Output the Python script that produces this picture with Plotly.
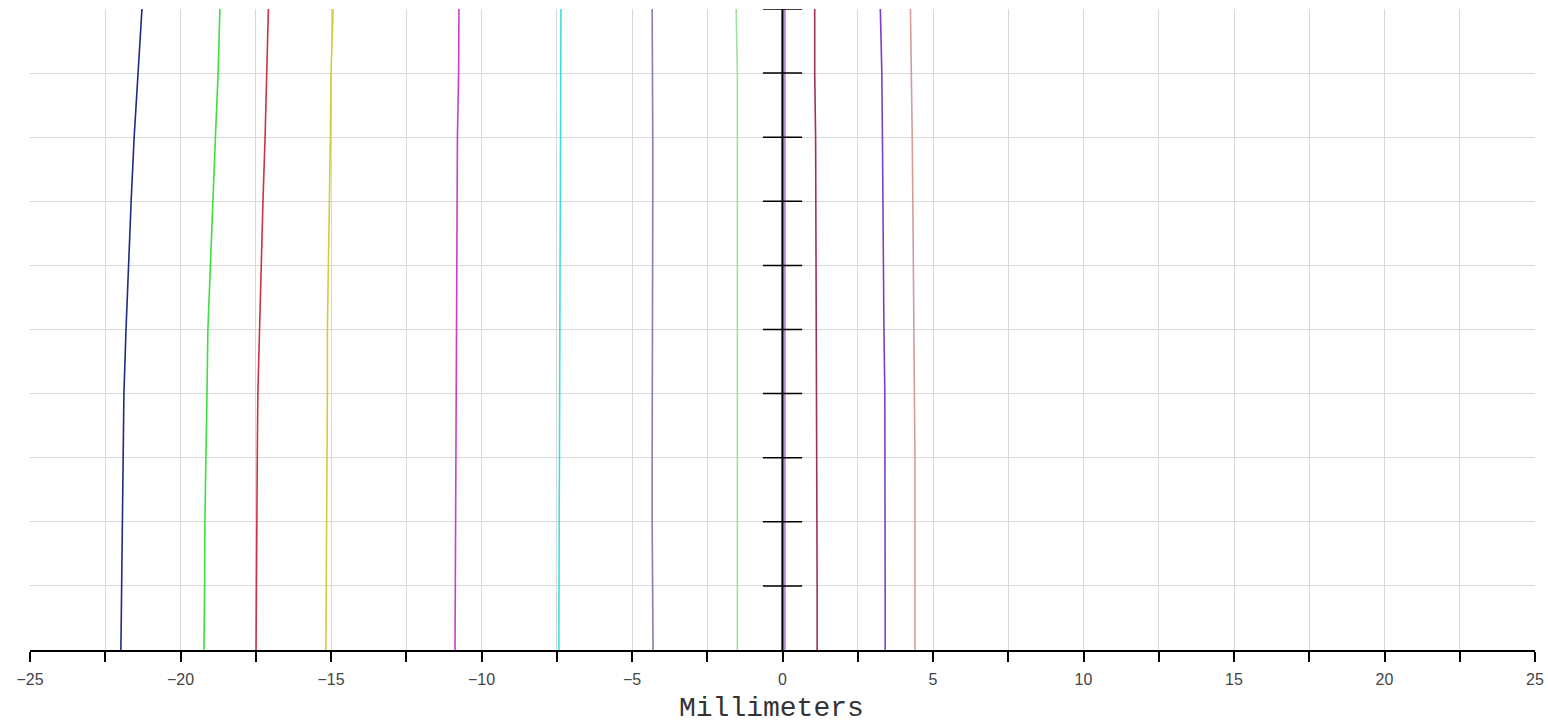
import plotly.graph_objects as go

# y levels (top -> bottom)
y_levels = [10, 9, 8, 7, 6, 5, 4, 3, 2, 1, 0]

navy_x = [-21.28, -21.41, -21.54, -21.64, -21.73, -21.81, -21.88, -21.91, -21.94, -21.96, -21.98]
green_x = [-18.69, -18.75, -18.84, -18.92, -19.00, -19.09, -19.12, -19.16, -19.19, -19.20, -19.22]
red_x = [-17.08, -17.13, -17.19, -17.26, -17.31, -17.38, -17.43, -17.45, -17.47, -17.48, -17.49]
yellow_x = [-14.93, -15.00, -15.02, -15.05, -15.07, -15.12, -15.12, -15.13, -15.14, -15.16, -15.17]
magenta_x = [-10.75, -10.76, -10.80, -10.81, -10.83, -10.85, -10.86, -10.86, -10.87, -10.87, -10.88]
cyan_x = [-7.36, -7.36, -7.38, -7.38, -7.39, -7.39, -7.40, -7.41, -7.42, -7.42, -7.43]
slate_x = [-4.33, -4.31, -4.31, -4.31, -4.32, -4.32, -4.32, -4.33, -4.33, -4.32, -4.30]
lightgreen_x = [-1.54, -1.50, -1.50, -1.50, -1.50, -1.50, -1.50, -1.50, -1.50, -1.50, -1.50]
violet_x = [0.08, 0.08, 0.08, 0.08, 0.08, 0.08, 0.08, 0.08, 0.08, 0.08, 0.08]
crimson_x = [1.07, 1.07, 1.10, 1.11, 1.11, 1.12, 1.14, 1.15, 1.15, 1.15, 1.15]
purple_x = [3.25, 3.30, 3.32, 3.33, 3.35, 3.37, 3.40, 3.41, 3.41, 3.41, 3.41]
salmon_x = [4.25, 4.29, 4.31, 4.33, 4.35, 4.38, 4.39, 4.40, 4.40, 4.40, 4.40]

series = [
    (navy_x, "#1f2a80"),
    (green_x, "#3ee03e"),
    (red_x, "#cc3344"),
    (yellow_x, "#d2cc3c"),
    (magenta_x, "#c840c8"),
    (cyan_x, "#3fdede"),
    (slate_x, "#7f7fb4"),
    (lightgreen_x, "#9fe09f"),
    (crimson_x, "#a3304c"),
    (purple_x, "#7a3fc4"),
    (salmon_x, "#d49c9c"),
]

# center axis tick levels and half-length (mm)
center_ticks = [1, 2, 3, 4, 5, 6, 7, 8, 9, 10]
tick_half = 0.65

fig = go.Figure()
for xs, col in series:
    fig.add_trace(go.Scatter(x=xs, y=y_levels, mode="lines",
                             line=dict(color=col, width=1.6),
                             hoverinfo="skip", showlegend=False))

# central axis
fig.add_trace(go.Scatter(x=[0, 0], y=[0, 10], mode="lines",
                         line=dict(color="#000000", width=2.2),
                         hoverinfo="skip", showlegend=False))
fig.add_trace(go.Scatter(x=violet_x, y=y_levels, mode="lines",
                         line=dict(color="#a070c8", width=1.4),
                         hoverinfo="skip", showlegend=False))
tx, ty = [], []
for lv in center_ticks:
    tx += [-tick_half, tick_half, None]
    ty += [lv, lv, None]
fig.add_trace(go.Scatter(x=tx, y=ty, mode="lines",
                         line=dict(color="#000000", width=1.5),
                         hoverinfo="skip", showlegend=False))

fig.update_layout(
    width=1548, height=726,
    margin=dict(l=30, r=13, t=9, b=76),
    paper_bgcolor="white", plot_bgcolor="white",
    xaxis=dict(range=[-25, 25], tick0=0, dtick=5, automargin=False,
               ticks="outside", ticklen=10, tickwidth=1.5, tickcolor="#000",
               ticklabelstandoff=4,
               showline=True, linecolor="#000", linewidth=1.5,
               showgrid=True, gridcolor="#d8d8d8", gridwidth=1,
               zeroline=False,
               tickfont=dict(family="Liberation Sans", size=16, color="#444"),
               minor=dict(dtick=2.5, tick0=0, ticks="outside", ticklen=10,
                          tickwidth=1.5, tickcolor="#000",
                          showgrid=True, gridcolor="#d8d8d8", gridwidth=1)),
    yaxis=dict(range=[0, 10], dtick=1, tick0=0, showticklabels=False,
               showgrid=True, gridcolor="#d8d8d8", gridwidth=1,
               zeroline=False, showline=False, ticks="", automargin=False),
    annotations=[dict(text="Millimeters", xref="paper", yref="paper",
                      x=0.4927, y=0.0, yshift=-58, xanchor="center", yanchor="middle",
                      showarrow=False,
                      font=dict(family="Liberation Mono", size=28, color="#333"))],
)

fig.write_html("out.html")
